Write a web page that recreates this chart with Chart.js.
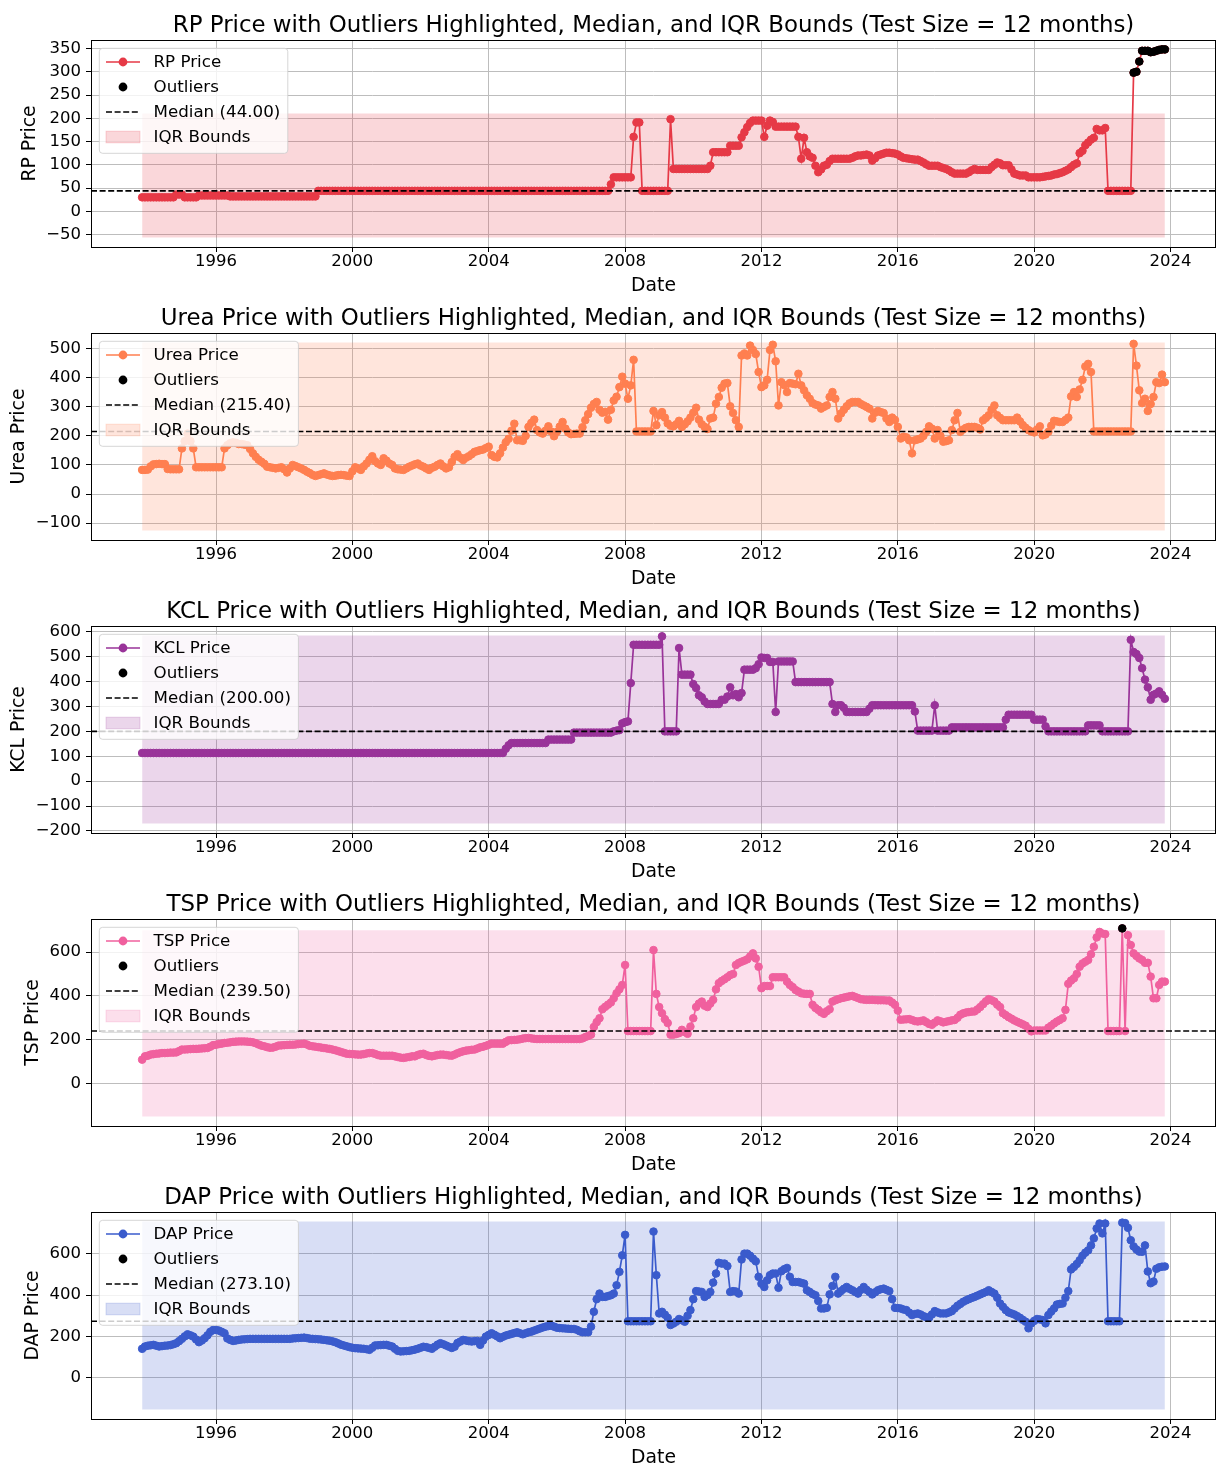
<!DOCTYPE html>
<html><head><meta charset="utf-8">
<script src="https://cdn.jsdelivr.net/npm/chart.js@4.4.0/dist/chart.umd.min.js"></script>
<style>
html,body{margin:0;padding:0;background:#fff;overflow:hidden;}
#wrap{position:relative;width:1221px;height:1466px;background:#fff;}
canvas{position:absolute;left:0;}
</style></head><body><div id="wrap"></div>
<script>
// ---- data (monthly, first month = 1993-11) ----
const startYear = 1993, startMonth = 11;
const yearTicks = [1996,2000,2004,2008,2012,2016,2020,2024];

const rpPrice = [
30,30,
30,30,30,30,30,30,30,30,30,30,36,36,
36,30,30,30,30,30,34,34,34,34,34,34,
34,34,34,34,34,32,32,32,32,32,32,32,
32,32,32,32,32,32,32,32,32,32,32,32,
32,32,32,32,32,32,32,32,32,32,32,32,
44,44,44,44,44,44,44,44,44,44,44,44,
44,44,44,44,44,44,44,44,44,44,44,44,
44,44,44,44,44,44,44,44,44,44,44,44,
44,44,44,44,44,44,44,44,44,44,44,44,
44,44,44,44,44,44,44,44,44,44,44,44,
44,44,44,44,44,44,44,44,44,44,44,44,
44,44,44,44,44,44,44,44,44,44,44,44,
44,44,44,44,44,44,44,44,44,44,44,44,
44,44,44,44,44,44,44,58,73,73,73,73,
73,73,73,160,191,191,44,44,44,44,44,44,
44,44,44,44,198,91,91,91,91,91,91,91,
91,91,91,91,91,91,98,127,127,127,127,127,
127,141,141,141,141,159,170,181,190,195,195,195,
195,160,184,195,192,182,182,182,182,182,182,182,
182,160,113,158,127,118,115,98,84,90,98,100,
108,113,113,113,113,113,113,113,115,118,120,120,
121,122,120,109,114,120,122,124,126,126,125,124,
122,118,115,114,113,112,111,111,108,105,101,98,
98,98,98,95,93,91,88,84,81,81,81,81,
81,84,88,91,89,89,89,89,89,95,100,105,
103,99,99,99,90,81,79,77,77,77,73,73,
73,73,73,74,75,76,77,79,80,82,84,87,
90,95,100,103,125,130,142,148,154,158,177,174,
174,179,44,44,44,44,44,44,44,44,44,298,
300,322,345,345,345,342,343,345,347,348,348
];

const ureaPrice = [
83,83,
84,95,102,103,104,103,103,86,85,85,85,85,
157,182,208,182,157,92,92,92,92,92,92,92,
92,92,92,157,168,175,178,176,172,172,170,168,
155,140,128,118,111,104,94,92,90,88,90,92,
85,74,88,100,96,92,88,83,77,72,66,62,
65,68,71,67,64,62,63,65,66,65,63,62,
78,92,88,83,95,105,118,130,113,105,100,123,
115,105,100,88,85,84,83,88,94,98,102,105,
98,94,88,83,90,94,100,105,95,88,92,110,
128,137,125,117,125,130,137,145,148,151,153,158,
163,134,128,126,140,160,178,190,218,242,185,185,
183,200,231,245,256,220,212,208,218,233,215,199,
214,232,248,225,212,206,207,208,208,230,254,275,
297,310,317,290,280,283,256,290,322,335,368,404,
380,328,374,462,215.4,215.4,215.4,215.4,215.4,215.4,286,237,
271,282,263,243,235,233,240,252,231,240,250,263,
280,297,256,240,231,224,260,263,311,334,366,380,
382,302,279,254,231,477,484,477,511,496,482,420,
368,374,393,496,514,457,305,385,375,351,382,380,
378,414,374,357,340,328,313,308,305,294,300,305,
334,351,328,260,277,290,302,312,317,317,317,310,
305,300,294,260,280,286,282,279,260,248,263,255,
231,191,197,195,185,140,185,188,191,200,214,233,
225,191,220,200,180,182,185,220,254,279,214,222,
228,231,231,231,228,222,254,262,271,290,305,271,
262,254,254,254,254,254,263,250,237,228,220,215,
212,222,233,202,205,214,235,252,250,248,248,255,
263,336,351,334,360,393,439,448,420,215.4,215.4,215.4,
215.4,215.4,215.4,215.4,215.4,215.4,215.4,215.4,215.4,215.4,215.4,517,
442,357,313,328,286,310,334,385,382,411,385
];

const kclPrice = [
113,113,
113,113,113,113,113,113,113,113,113,113,113,113,
113,113,113,113,113,113,113,113,113,113,113,113,
113,113,113,113,113,113,113,113,113,113,113,113,
113,113,113,113,113,113,113,113,113,113,113,113,
113,113,113,113,113,113,113,113,113,113,113,113,
113,113,113,113,113,113,113,113,113,113,113,113,
113,113,113,113,113,113,113,113,113,113,113,113,
113,113,113,113,113,113,113,113,113,113,113,113,
113,113,113,113,113,113,113,113,113,113,113,113,
113,113,113,113,113,113,113,113,113,113,113,113,
113,113,113,113,113,113,130,144,153,153,153,153,
153,153,153,153,153,153,153,153,153,167,167,167,
167,167,167,167,167,167,195,195,195,195,195,195,
195,195,195,195,195,195,195,195,200,203,205,232,
237,240,394,548,548,548,548,548,548,548,548,548,
548,582,200,200,200,200,200,535,428,428,428,428,
390,374,345,337,320,310,310,310,310,310,327,327,
340,377,345,350,337,354,448,448,448,448,454,470,
497,495,495,479,479,278,481,481,481,481,481,481,
398,398,398,398,398,398,398,398,398,398,398,398,
398,310,278,305,305,295,278,278,278,278,278,278,
278,278,291,305,305,305,305,305,305,305,305,305,
305,305,305,305,305,305,280,203,203,203,203,203,
203,305,203,203,203,203,203,216,216,216,216,216,
216,216,216,216,216,216,216,216,216,216,216,216,
216,216,247,267,267,267,267,267,267,267,267,267,
247,247,247,247,220,200,200,200,200,200,200,200,
200,200,200,200,200,200,200,224,224,224,224,224,
200,200,200,200,200,200,200,200,200,200,568,519,
511,495,454,408,377,327,347,352,361,347,331
];

const tspPrice = [
109,124,
127,132,134,136,137,139,139,140,141,141,142,148,
155,155,156,157,158,158,159,160,161,162,168,175,
177,180,182,185,186,188,190,191,192,192,192,191,
190,188,184,178,173,170,166,163,164,168,173,174,
175,176,177,177,178,180,181,182,178,172,170,168,
166,164,162,160,158,155,152,148,144,140,136,135,
134,133,132,132,134,137,139,139,135,130,127,127,
127,127,127,124,121,118,117,119,121,124,124,130,
134,136,130,126,124,127,130,132,132,130,128,127,
132,138,143,147,150,152,154,155,160,165,168,172,
177,182,182,182,182,182,190,197,198,199,200,202,
205,207,208,206,204,203,203,203,203,203,203,203,
203,203,203,203,203,203,203,203,203,206,212,217,
223,258,280,298,339,350,360,370,389,412,430,450,
541,239.5,239.5,239.5,239.5,239.5,239.5,239.5,239.5,239.5,609,409,
349,321,294,276,223,223,226,230,245,235,227,260,
298,349,365,374,355,349,365,382,430,458,468,476,
485,495,500,541,550,556,561,567,580,594,571,533,
435,445,445,445,485,485,485,485,485,465,450,440,
427,420,412,410,409,409,359,345,336,325,318,330,
339,374,380,385,389,392,395,398,400,395,390,385,
383,382,382,382,381,380,380,380,379,379,370,359,
333,291,292,293,294,290,285,283,285,288,280,272,
268,278,288,284,279,282,285,288,290,300,314,320,
324,326,328,329,338,349,362,375,385,380,374,360,
349,321,312,303,296,288,282,276,270,264,250,238,
242,242,242,242,242,255,264,274,283,290,298,336,
455,470,480,500,533,548,556,564,590,624,667,692,
685,682,239.5,239.5,239.5,239.5,239.5,708,239.5,677,632,594,
582,571,564,551,551,488,389,389,450,465,465
];

const dapPrice = [
140,151,
155,157,159,155,151,153,155,156,158,162,167,177,
188,200,210,205,199,185,172,180,191,205,222,231,
231,228,222,215,190,183,178,180,183,185,186,187,
188,188,188,188,188,188,188,188,188,188,188,188,
188,188,188,190,191,192,193,194,192,189,188,187,
186,185,183,181,179,176,172,166,160,156,152,148,
145,143,142,141,140,138,135,145,156,157,158,159,
159,155,151,140,130,127,128,129,130,133,136,140,
145,150,148,144,140,150,160,167,162,156,150,144,
150,168,175,183,180,177,175,177,178,159,180,199,
207,215,208,200,191,198,204,208,212,216,220,215,
210,215,220,223,228,233,238,243,247,250,252,247,
242,240,239,238,237,236,236,232,225,220,220,220,
247,319,380,407,391,391,395,399,407,447,512,592,
691,273.1,273.1,273.1,273.1,273.1,273.1,273.1,273.1,273.1,707,496,
311,319,305,290,255,262,271,284,278,271,300,327,
380,419,417,415,391,400,415,460,504,556,552,552,
540,415,419,417,407,572,600,600,590,576,563,488,
455,439,471,496,504,504,435,515,525,531,488,463,
463,463,459,455,423,415,405,399,371,335,335,338,
403,444,488,407,419,430,439,430,423,415,407,425,
439,425,415,403,413,423,428,431,425,419,380,338,
337,335,330,327,315,303,308,311,306,298,293,290,
306,322,316,311,311,311,316,322,335,348,357,367,
374,380,386,391,397,403,409,415,423,415,407,387,
359,343,327,316,311,306,298,290,280,271,239,263,
275,284,282,279,263,303,320,335,354,357,359,387,
419,524,536,550,568,590,605,616,640,674,722,746,
698,746,273.1,273.1,273.1,273.1,273.1,750,748,725,665,635,
620,610,609,640,514,457,465,527,534,537,538
];

const medians = [44.00, 215.40, 200.00, 239.50, 273.10];
const iqrLower = [-56.5, -126, -170.7, -151, -154];
const iqrUpper = [210.5, 522, 585.7, 700, 756];
const rpTicks = [-50,0,50,100,150,200,250,300,350];
const ureaTicks = [-100,0,100,200,300,400,500];
const kclTicks = [-200,-100,0,100,200,300,400,500,600];
const tspTicks = [0,200,400,600];
const dapTicks = [0,200,400,600];
const names = ['RP','Urea','KCL','TSP','DAP'];
const colors = ['#E63946','#FF7F50','#993399','#F0609E','#3A5BCC'];

// ---- build ----
const FONT = '"DejaVu Sans", "Liberation Sans", sans-serif';
const allValues = [rpPrice, ureaPrice, kclPrice, tspPrice, dapPrice];
const allTicks = [rpTicks, ureaTicks, kclTicks, tspTicks, dapTicks];
const dates = rpPrice.map((_, k) => startYear + (startMonth - 1 + k) / 12);
const AREA = {left: 91, right: 1219, top: 40, bottom: 247};

function rgba(hex, a) {
  const n = parseInt(hex.slice(1), 16);
  return `rgba(${(n>>16)&255},${(n>>8)&255},${n&255},${a})`;
}
function fmtTick(v) { return v < 0 ? '\u2212' + Math.abs(v) : String(v); }

const decor = {
  id: 'decor',
  afterDraw(chart, args, o) {
    const {ctx, chartArea: a} = chart;
    ctx.save();
    ctx.strokeStyle = '#000'; ctx.lineWidth = 1;
    ctx.strokeRect(Math.round(a.left) + 0.5, Math.round(a.top) + 0.5,
                   Math.round(a.right - a.left) - 1, Math.round(a.bottom - a.top));
    const cx = (a.left + a.right) / 2;
    ctx.fillStyle = '#000';
    ctx.textAlign = 'center'; ctx.textBaseline = 'alphabetic';
    ctx.font = `22.9px ${FONT}`;
    ctx.fillText(o.title, cx, a.top - 8);
    ctx.font = `18.8px ${FONT}`;
    ctx.fillText('Date', cx, a.bottom + 44);
    ctx.font = `16.5px ${FONT}`;
    let maxW = 0;
    o.ticks.forEach(t => { maxW = Math.max(maxW, ctx.measureText(fmtTick(t)).width); });
    const lx = a.left - 10 - maxW - 5.6 - 10.9;
    ctx.save();
    ctx.translate(lx, (a.top + a.bottom) / 2);
    ctx.rotate(-Math.PI / 2);
    ctx.font = `18.8px ${FONT}`;
    ctx.textAlign = 'center'; ctx.textBaseline = 'middle';
    ctx.fillText(o.ylabel, 0, 0);
    ctx.restore();
    // legend
    const fs = 16.7;
    ctx.font = `${fs}px ${FONT}`;
    const labels = [o.ylabel, 'Outliers', o.medianLabel, 'IQR Bounds'];
    let tw = 0; labels.forEach(l => { tw = Math.max(tw, ctx.measureText(l).width); });
    const bx = a.left + 8.3, by = a.top + 8.3, tx = a.left + 62.5;
    const bw = tx + tw + 7.5 - bx, bh = 105, r = 3.3;
    ctx.beginPath();
    ctx.moveTo(bx + r, by); ctx.lineTo(bx + bw - r, by); ctx.arcTo(bx + bw, by, bx + bw, by + r, r);
    ctx.lineTo(bx + bw, by + bh - r); ctx.arcTo(bx + bw, by + bh, bx + bw - r, by + bh, r);
    ctx.lineTo(bx + r, by + bh); ctx.arcTo(bx, by + bh, bx, by + bh - r, r);
    ctx.lineTo(bx, by + r); ctx.arcTo(bx, by, bx + r, by, r); ctx.closePath();
    ctx.fillStyle = 'rgba(255,255,255,0.8)'; ctx.fill();
    ctx.strokeStyle = 'rgba(204,204,204,0.8)'; ctx.lineWidth = 1; ctx.stroke();
    const h0 = a.left + 15, h1 = a.left + 49, hc = (h0 + h1) / 2;
    for (let i = 0; i < 4; i++) {
      const y = a.top + 22 + 25 * i;
      if (i === 0) {
        ctx.strokeStyle = o.color; ctx.lineWidth = 1.7; ctx.setLineDash([]);
        ctx.beginPath(); ctx.moveTo(h0, y); ctx.lineTo(h1, y); ctx.stroke();
        ctx.fillStyle = o.color; ctx.beginPath(); ctx.arc(hc, y, 4.4, 0, Math.PI * 2); ctx.fill();
      } else if (i === 1) {
        ctx.fillStyle = '#000'; ctx.beginPath(); ctx.arc(hc, y, 4.4, 0, Math.PI * 2); ctx.fill();
      } else if (i === 2) {
        ctx.strokeStyle = '#000'; ctx.lineWidth = 1.6; ctx.setLineDash([6, 2.6]);
        ctx.beginPath(); ctx.moveTo(h0, y); ctx.lineTo(h1, y); ctx.stroke(); ctx.setLineDash([]);
      } else {
        ctx.fillStyle = rgba(o.color, 0.2); ctx.fillRect(h0, y - 5.8, h1 - h0, 11.6);
        ctx.strokeStyle = rgba(o.color, 0.2); ctx.lineWidth = 1; ctx.strokeRect(h0, y - 5.8, h1 - h0, 11.6);
      }
      ctx.fillStyle = '#000'; ctx.textAlign = 'left'; ctx.textBaseline = 'middle';
      ctx.fillText(labels[i], tx, y + 0.5);
    }
    ctx.restore();
  }
};

const wrap = document.getElementById('wrap');
const tops = [0, 293, 586, 879, 1172];
names.forEach((nm, s) => {
  const vals = allValues[s];
  const c = document.createElement('canvas');
  const H = s === 4 ? 294 : 293;
  c.width = 1221; c.height = H; c.style.top = tops[s] + 'px';
  c.style.width = '1221px'; c.style.height = H + 'px';
  wrap.appendChild(c);
  const lower = iqrLower[s], upper = iqrUpper[s], med = medians[s], col = colors[s];
  const pts = vals.map((v, i) => ({x: dates[i], y: v}));
  const outl = pts.filter(p => p.y > upper || p.y < lower);
  const lo = Math.min(lower, ...vals), hi = Math.max(upper, ...vals);
  const yp = (hi - lo) * 0.05;
  const d0 = dates[0], d1 = dates[dates.length - 1];
  const xp = (d1 - d0) * 0.05;
  const xmin = d0 - xp, xmax = d1 + xp;
  const tickFont = {family: FONT, size: 16.5};
  const ch = new Chart(c, {
    type: 'scatter',
    data: {datasets: [
      {data: [{x: d0, y: upper}, {x: d1, y: upper}], showLine: true, fill: {value: lower},
       backgroundColor: rgba(col, 0.2), borderColor: rgba(col, 0.2), borderWidth: 0, pointRadius: 0, order: 4},
      {data: pts, showLine: true, borderColor: col, borderWidth: 1.7, pointRadius: 3.8,
       pointBackgroundColor: col, pointBorderColor: col, pointBorderWidth: 1, order: 3},
      {data: outl, showLine: false, pointRadius: 3.8, pointBackgroundColor: '#000',
       pointBorderColor: '#000', pointBorderWidth: 1, order: 2},
      {data: [{x: xmin, y: med}, {x: xmax, y: med}], showLine: true, borderColor: '#000',
       borderWidth: 1.6, borderDash: [6, 2.6], pointRadius: 0, order: 1}
    ]},
    options: {
      responsive: false, animation: false, devicePixelRatio: 1,
      layout: {padding: {top: 40, left: 0, right: 2, bottom: 0}},
      plugins: {
        legend: {display: false}, tooltip: {enabled: false},
        decor: {title: `${nm} Price with Outliers Highlighted, Median, and IQR Bounds (Test Size = 12 months)`,
                ylabel: `${nm} Price`, medianLabel: `Median (${med.toFixed(2)})`, color: col, ticks: allTicks[s]}
      },
      scales: {
        x: {type: 'linear', min: xmin, max: xmax,
            afterBuildTicks: ax => { ax.ticks = yearTicks.map(v => ({value: v})); },
            ticks: {callback: v => String(v), color: '#000', font: tickFont, padding: 0, maxRotation: 0, autoSkip: false},
            grid: {color: '#bdbdbd', lineWidth: 1, tickColor: '#000', tickLength: 5, tickWidth: 1},
            border: {display: false},
            afterFit: ax => { ax.height = H - AREA.bottom; ax.paddingLeft = 0; ax.paddingRight = 0; }},
        y: {type: 'linear', min: lo - yp, max: hi + yp,
            afterBuildTicks: ax => { ax.ticks = allTicks[s].map(v => ({value: v})); },
            ticks: {callback: v => fmtTick(v), color: '#000', font: tickFont, padding: 5, autoSkip: false},
            grid: {color: '#bdbdbd', lineWidth: 1, tickColor: '#000', tickLength: 5, tickWidth: 1},
            border: {display: false},
            afterFit: ax => { ax.width = AREA.left; ax.paddingTop = 0; ax.paddingBottom = 0; }}
      }
    },
    plugins: [decor]
  });
  // make the plot area match the reference exactly
  const a = ch.chartArea;
  const dr = a.right - AREA.right, dt = AREA.top - a.top;
  if (Math.abs(dr) > 0.2 || Math.abs(dt) > 0.2) {
    ch.options.layout.padding = {top: 40 + dt, left: 0, right: 2 + dr, bottom: 0};
    ch.update('none');
  }
});
</script></body></html>
